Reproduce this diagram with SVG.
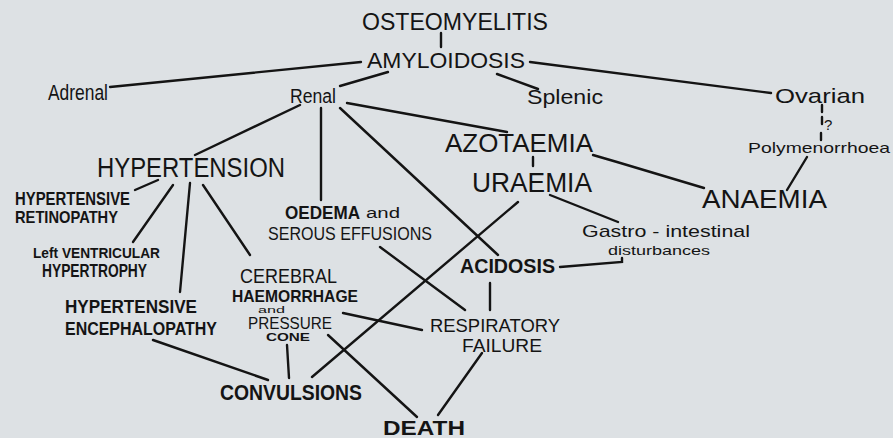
<svg xmlns="http://www.w3.org/2000/svg" width="893" height="438" viewBox="0 0 893 438">
<style>
.t{font-family:"Liberation Sans",Arial,sans-serif;fill:#141414;}
.b{font-weight:bold;}
.c line,.c polyline{stroke:#141414;stroke-width:2.4;fill:none;stroke-linecap:round;}
</style>
<rect x="0" y="0" width="893" height="438" fill="#dde1e4"/>
<g class="c" id="connectors">
<line x1="441" y1="33" x2="441" y2="47"/>
<line x1="110" y1="87" x2="361" y2="62"/>
<line x1="388" y1="72" x2="340" y2="86"/>
<line x1="497" y1="74" x2="538" y2="89"/>
<line x1="530" y1="62" x2="771" y2="93"/>
<line x1="822" y1="105" x2="822" y2="112"/>
<line x1="822" y1="117" x2="822" y2="124"/>
<line x1="821" y1="133" x2="821" y2="140"/>
<line x1="807" y1="157" x2="787" y2="190"/>
<polyline points="593,155 617,162 704,188"/>
<line x1="533" y1="157" x2="533" y2="166"/>
<line x1="347" y1="103" x2="507" y2="132"/>
<line x1="300" y1="105" x2="195" y2="155"/>
<line x1="321" y1="108" x2="321" y2="200"/>
<line x1="340" y1="108" x2="498" y2="255"/>
<line x1="518" y1="202" x2="312" y2="377"/>
<line x1="380" y1="247" x2="465" y2="310"/>
<line x1="550" y1="195" x2="618" y2="222"/>
<polyline points="560,267 622,262 622,258"/>
<line x1="490" y1="283" x2="490" y2="310"/>
<line x1="343" y1="313" x2="422" y2="330"/>
<line x1="328" y1="335" x2="417" y2="417"/>
<line x1="482" y1="353" x2="438" y2="415"/>
<line x1="153" y1="340" x2="268" y2="380"/>
<line x1="287" y1="345" x2="289" y2="378"/>
<line x1="203" y1="185" x2="250" y2="255"/>
<line x1="190" y1="183" x2="180" y2="292"/>
<line x1="173" y1="185" x2="133" y2="242"/>
<line x1="158" y1="180" x2="135" y2="190"/>
</g>
<g id="osteomyelitis"><text class="t" x="362" y="30" font-size="23" textLength="186" lengthAdjust="spacingAndGlyphs">OSTEOMYELITIS</text></g>
<g id="amyloidosis"><text class="t" x="367" y="68" font-size="22" textLength="158" lengthAdjust="spacingAndGlyphs">AMYLOIDOSIS</text></g>
<g id="adrenal"><text class="t" x="48" y="100" font-size="22" textLength="60" lengthAdjust="spacingAndGlyphs">Adrenal</text></g>
<g id="renal"><text class="t" x="290" y="103" font-size="20" textLength="46" lengthAdjust="spacingAndGlyphs">Renal</text></g>
<g id="splenic"><text class="t" x="527" y="104" font-size="21" textLength="76" lengthAdjust="spacingAndGlyphs">Splenic</text></g>
<g id="ovarian"><text class="t" x="775" y="103" font-size="21" textLength="90" lengthAdjust="spacingAndGlyphs">Ovarian</text></g>
<g id="question"><text class="t" x="824" y="130" font-size="15">?</text></g>
<g id="polymenorrhoea"><text class="t" x="748" y="153" font-size="15" textLength="142" lengthAdjust="spacingAndGlyphs">Polymenorrhoea</text></g>
<g id="azotaemia"><text class="t" x="445" y="152" font-size="26" textLength="148" lengthAdjust="spacingAndGlyphs">AZOTAEMIA</text></g>
<g id="uraemia"><text class="t" x="472" y="192" font-size="27" textLength="120" lengthAdjust="spacingAndGlyphs">URAEMIA</text></g>
<g id="anaemia"><text class="t" x="702" y="208" font-size="25" textLength="125" lengthAdjust="spacingAndGlyphs">ANAEMIA</text></g>
<g id="hypertension"><text class="t" x="97" y="177" font-size="27" textLength="188" lengthAdjust="spacingAndGlyphs">HYPERTENSION</text></g>
<g id="retinopathy">
<text class="t b" x="15" y="205" font-size="18" textLength="115" lengthAdjust="spacingAndGlyphs">HYPERTENSIVE</text>
<text class="t b" x="15" y="223" font-size="17" textLength="103" lengthAdjust="spacingAndGlyphs">RETINOPATHY</text>
</g>
<g id="lvh">
<text class="t b" x="33" y="258" font-size="14" textLength="127" lengthAdjust="spacingAndGlyphs">Left VENTRICULAR</text>
<text class="t b" x="42" y="277" font-size="18" textLength="105" lengthAdjust="spacingAndGlyphs">HYPERTROPHY</text>
</g>
<g id="encephalopathy">
<text class="t b" x="65" y="313" font-size="18" textLength="132" lengthAdjust="spacingAndGlyphs">HYPERTENSIVE</text>
<text class="t b" x="65" y="335" font-size="19" textLength="152" lengthAdjust="spacingAndGlyphs">ENCEPHALOPATHY</text>
</g>
<g id="cerebral">
<text class="t" x="240" y="283" font-size="21" textLength="97" lengthAdjust="spacingAndGlyphs">CEREBRAL</text>
<text class="t b" x="232" y="302" font-size="17" textLength="126" lengthAdjust="spacingAndGlyphs">HAEMORRHAGE</text>
<text class="t" x="258" y="313" font-size="9" textLength="27" lengthAdjust="spacingAndGlyphs">and</text>
<text class="t" x="248" y="329" font-size="16" textLength="84" lengthAdjust="spacingAndGlyphs">PRESSURE</text>
<text class="t b" x="266" y="341" font-size="11" textLength="44" lengthAdjust="spacingAndGlyphs">CONE</text>
</g>
<g id="oedema">
<text class="t b" x="285" y="219" font-size="18" textLength="75" lengthAdjust="spacingAndGlyphs">OEDEMA</text>
<text class="t" x="366" y="218" font-size="14" textLength="34" lengthAdjust="spacingAndGlyphs">and</text>
<text class="t" x="268" y="240" font-size="19" textLength="164" lengthAdjust="spacingAndGlyphs">SEROUS EFFUSIONS</text>
</g>
<g id="acidosis"><text class="t b" x="460" y="273" font-size="21" textLength="95" lengthAdjust="spacingAndGlyphs">ACIDOSIS</text></g>
<g id="gastro">
<text class="t" x="582" y="237" font-size="17" textLength="168" lengthAdjust="spacingAndGlyphs">Gastro - intestinal</text>
<text class="t" x="608" y="255" font-size="13" textLength="102" lengthAdjust="spacingAndGlyphs">disturbances</text>
</g>
<g id="respiratory">
<text class="t" x="430" y="332" font-size="19" textLength="130" lengthAdjust="spacingAndGlyphs">RESPIRATORY</text>
<text class="t" x="462" y="352" font-size="18" textLength="80" lengthAdjust="spacingAndGlyphs">FAILURE</text>
</g>
<g id="convulsions"><text class="t b" x="220" y="400" font-size="22" textLength="142" lengthAdjust="spacingAndGlyphs">CONVULSIONS</text></g>
<g id="death"><text class="t b" x="383" y="435" font-size="21" textLength="82" lengthAdjust="spacingAndGlyphs">DEATH</text></g>
</svg>
